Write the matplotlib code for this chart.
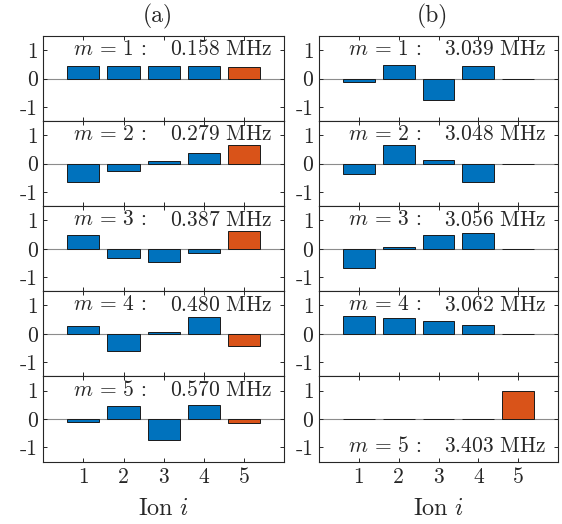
import matplotlib
matplotlib.use("Agg")
import matplotlib.pyplot as plt

plt.rcParams["mathtext.fontset"] = "cm"
plt.rcParams["axes.unicode_minus"] = False

ions = [1, 2, 3, 4, 5]
ion_tick_labels = ["1", "2", "3", "4", "5"]
y_ticks = [-1, 0, 1]
y_tick_labels = ["-1", "0", "1"]
panel_titles = ["(a)", "(b)"]

# mode frequencies (MHz)
freqs_a = ["0.158", "0.279", "0.387", "0.480", "0.570"]
freqs_b = ["3.039", "3.048", "3.056", "3.062", "3.403"]

# normalised mode participation of each ion, one list per mode
modes_a = [
    [0.46, 0.46, 0.46, 0.46, 0.41],
    [-0.65, -0.27, 0.08, 0.38, 0.64],
    [0.49, -0.34, -0.48, -0.15, 0.64],
    [0.28, -0.62, 0.06, 0.61, -0.44],
    [-0.10, 0.46, -0.74, 0.49, -0.15],
]
modes_b = [
    [-0.12, 0.48, -0.74, 0.44, 0.0],
    [-0.35, 0.67, 0.13, -0.65, 0.0],
    [-0.68, 0.07, 0.48, 0.55, 0.0],
    [0.62, 0.55, 0.45, 0.31, 0.0],
    [0.0, 0.0, 0.0, 0.01, 0.99],
]

BLUE = "#0072BD"
ORANGE = "#D95319"
AXC = "#262626"
bar_colors = [BLUE, BLUE, BLUE, BLUE, ORANGE]

W, H = 562, 524
fig = plt.figure(figsize=(W / 100, H / 100), dpi=100)

col_left = [43.3 / W, 319 / W]
col_width = [240.7 / W, 239 / W]
row_h = 85.1 / H
top = 1 - 36 / H

cm = "cmr10"
FS = 15.5

for c, (modes, freqs) in enumerate([(modes_a, freqs_a), (modes_b, freqs_b)]):
    for r in range(5):
        ax = fig.add_axes([col_left[c], top - (r + 1) * row_h, col_width[c], row_h])
        ax.axhline(0, color="#8c8c8c", lw=0.8, zorder=0.5)
        ax.bar(ions, modes[r], width=0.8, color=bar_colors,
               edgecolor="#1a1a1a", linewidth=0.7, zorder=2)
        ax.set_xlim(0, 6)
        ax.set_ylim(-1.5, 1.5)
        ax.set_yticks(y_ticks)
        ax.set_yticklabels(y_tick_labels, fontfamily=cm, fontsize=FS, color=AXC)
        ax.set_xticks(ions)
        if r == 4:
            ax.set_xticklabels(ion_tick_labels, fontfamily=cm, fontsize=FS, color=AXC)
        else:
            ax.set_xticklabels([])
        ax.tick_params(direction="in", length=3, width=0.7, color=AXC,
                       top=True, right=True, pad=4)
        for s in ax.spines.values():
            s.set_color(AXC)
            s.set_linewidth(0.8)
        ty = -0.97 if (c == 1 and r == 4) else 1.03
        ax.text(0.73, ty, r"$m$ = %d :" % (r + 1), fontfamily=cm, fontsize=FS,
                color=AXC, ha="left", va="center")
        ax.text(5.70, ty, r"$%s\ \mathrm{MHz}$" % freqs[r], fontsize=FS,
                color=AXC, ha="right", va="center")
        if r == 4:
            ax.set_xlabel(r"$\mathrm{Ion}\ i$", fontsize=17.5, color=AXC, labelpad=7)
    fig.text((col_left[c] + col_width[c] / 2) - 6 / W, 1 - 16 / H, panel_titles[c],
             fontfamily=cm, fontsize=17, color=AXC, ha="center", va="center")

fig.savefig("out.png", dpi=100)
